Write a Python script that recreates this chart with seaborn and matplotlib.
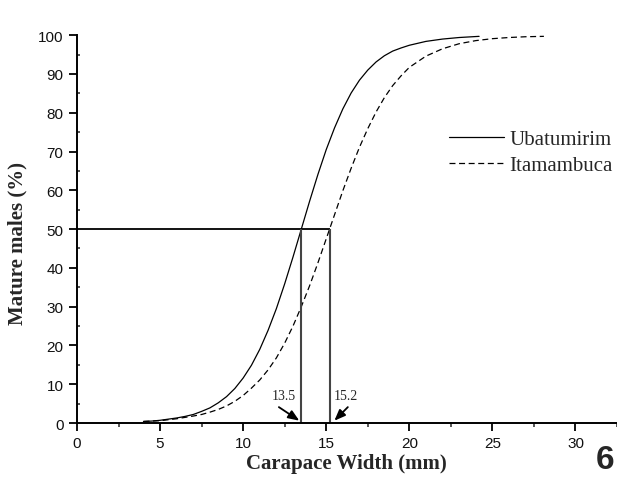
import matplotlib
matplotlib.use("Agg")
import matplotlib.pyplot as plt
import seaborn as sns
import pandas as pd

# ---- data ----
ubatumirim_cw = [4.0, 4.5, 5.0, 5.5, 6.0, 6.5, 7.0, 7.5, 8.0, 8.5, 9.0, 9.5, 10.0, 10.5,
                 11.0, 11.5, 12.0, 12.5, 13.0, 13.5, 14.0, 14.5, 15.0, 15.5, 16.0, 16.5,
                 17.0, 17.5, 18.0, 18.5, 19.0, 19.5, 20.0, 21.0, 22.0, 23.0, 24.2]
ubatumirim_pct = [0.4, 0.5, 0.7, 1.0, 1.3, 1.7, 2.2, 3.0, 3.9, 5.2, 6.8, 8.9, 11.6, 14.9,
                  19.0, 23.9, 29.5, 35.9, 42.8, 50.0, 57.2, 64.1, 70.5, 76.1, 81.0, 85.1,
                  88.4, 91.0, 93.1, 94.7, 95.9, 96.7, 97.4, 98.4, 99.0, 99.4, 99.7]

itamambuca_cw = [4.0, 5.0, 6.0, 7.0, 7.5, 8.0, 8.5, 9.0, 9.5, 10.0, 10.5, 11.0, 11.5,
                 12.0, 12.5, 13.0, 13.5, 14.0, 14.5, 15.0, 15.5, 16.0, 16.5, 17.0, 17.5,
                 18.0, 18.5, 19.0, 19.5, 20.0, 21.0, 22.0, 23.0, 24.0, 25.0, 26.0, 27.0, 28.1]
itamambuca_pct = [0.4, 0.6, 1.1, 1.8, 2.2, 2.8, 3.5, 4.4, 5.6, 7.1, 9.0, 11.1, 13.7,
                  16.8, 20.6, 25.0, 30.0, 35.4, 41.3, 47.5, 53.7, 59.9, 65.7, 71.1, 75.9,
                  80.2, 83.9, 87.0, 89.5, 91.7, 94.6, 96.5, 97.8, 98.6, 99.1, 99.4, 99.6, 99.7]

sites = ["Ubatumirim", "Itamambuca"]
cw50 = [13.5, 15.2]
cw50_labels = ["13.5", "15.2"]
x_ticks = [0, 5, 10, 15, 20, 25, 30]
y_ticks = [0, 10, 20, 30, 40, 50, 60, 70, 80, 90, 100]

df = pd.concat([
    pd.DataFrame({"cw": ubatumirim_cw, "pct": ubatumirim_pct, "site": sites[0]}),
    pd.DataFrame({"cw": itamambuca_cw, "pct": itamambuca_pct, "site": sites[1]}),
], ignore_index=True)

# ---- style ----
sns.set_theme(style="ticks")
plt.rcParams["font.family"] = ["Liberation Sans", "DejaVu Sans"]
plt.rcParams["lines.scale_dashes"] = False

fig = plt.figure(figsize=(6.17, 4.89), dpi=100)
ax = fig.add_axes([0.1248, 0.1329, 0.8752, 0.7931])

sns.lineplot(data=df, x="cw", y="pct", style="site", style_order=sites,
             dashes={sites[0]: "", sites[1]: (4.3, 2.6)}, color="black",
             linewidth=0.9, errorbar=None, legend=False, ax=ax, sort=False)

# reference lines at 50 %
ax.plot([0, cw50[1]], [50, 50], color="black", linewidth=1.3, solid_capstyle="butt")
for v in cw50:
    ax.plot([v, v], [0, 50], color="#444444", linewidth=1.5, solid_capstyle="butt")

# annotations: labels and arrows
arrow_kw = dict(arrowstyle="-|>,head_length=0.55,head_width=0.22",
                color="black", lw=1.3, shrinkA=0, shrinkB=0)
ax.text(12.45, 7.0, cw50_labels[0], ha="center", va="center", fontsize=10,
        family="Liberation Serif")
ax.annotate("", xy=(13.38, 0.6), xytext=(12.15, 4.1), arrowprops=arrow_kw)
ax.text(16.2, 7.0, cw50_labels[1], ha="center", va="center", fontsize=10,
        family="Liberation Serif")
ax.annotate("", xy=(15.49, 0.6), xytext=(16.3, 4.1), arrowprops=arrow_kw)

ax.set_xlim(0, 32.4)
ax.set_ylim(0, 100)
ax.set_xticks(x_ticks)
ax.set_yticks(y_ticks)
ax.set_xticks([2.5 + 5 * i for i in range(7)], minor=True)
ax.set_yticks([5 + 10 * i for i in range(10)], minor=True)

ax.tick_params(axis="both", which="major", direction="out", length=5.8, width=1.3,
               labelsize=11, color="black", labelcolor="#111111")
ax.tick_params(axis="x", which="major", pad=3.5)
ax.tick_params(axis="y", which="major", pad=4)
ax.tick_params(axis="x", which="minor", direction="out", length=3, width=1.1)
ax.tick_params(axis="y", which="minor", direction="in", length=2, width=1.1)

for s in ["top", "right"]:
    ax.spines[s].set_visible(False)
for s in ["left", "bottom"]:
    ax.spines[s].set_linewidth(1.4)
    ax.spines[s].set_color("black")

ax.set_xlabel("Carapace Width (mm)", fontsize=15, fontweight="bold",
              family="Liberation Serif")
ax.set_ylabel("Mature males (%)", fontsize=15, fontweight="bold",
              family="Liberation Serif")
ax.xaxis.set_label_coords(0.499, -0.078)
ax.yaxis.set_label_coords(-0.091, 0.465)

leg = ax.legend(handles=[ax.lines[0], ax.lines[1]], labels=sites,
                loc="center left", bbox_to_anchor=(0.689, 0.698),
                frameon=False, borderpad=0, borderaxespad=0,
                handlelength=2.65, handletextpad=0.25, labelspacing=0.3,
                prop={"family": "Liberation Serif", "size": 15})

fig.text(0.981, 0.059, "6", fontsize=24, fontweight="bold", ha="center", va="center",
         family="Liberation Sans")

fig.savefig("out.png", dpi=100)
